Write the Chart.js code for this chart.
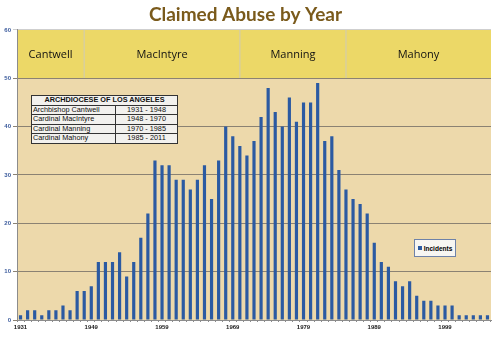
<!DOCTYPE html>
<html>
<head>
<meta charset="utf-8">
<script src="https://cdn.jsdelivr.net/npm/chart.js@4"></script>
<style>
    body { margin: 0; background: #fff; }
    #wrap { position: relative; width: 495px; height: 341px; }
    #abuse-chart { display: block; }
    #term-table {
        position: absolute; left: 31px; top: 95px; width: 147px;
        border-collapse: collapse; background: #f2f1ee; color: #111;
        font-family: "Liberation Sans", Arial, sans-serif; font-size: 7.3px; line-height: 8.5px;
        border: 1.2px solid #333;
    }
    #term-table th { font-weight: bold; text-align: center; border-bottom: 1px solid #333; padding: 0; height: 8.5px; }
    #term-table td { border-top: 1px solid #333; padding: 0 1px; height: 8.5px; }
    #term-table td.years { text-align: center; border-left: 1px solid #333; width: 59px; }
    #legend-box {
        position: absolute; left: 414px; top: 239px; width: 42px; height: 18px;
        border: 1px solid #6e82a8; background: #f7f6f2;
        font-family: "Liberation Sans", Arial, sans-serif; font-size: 6.5px; font-weight: bold;
        display: flex; align-items: center; justify-content: center; box-sizing: border-box;
    }
    #legend-box span.swatch { width: 4px; height: 4px; background: #2b5aa2; margin-right: 2px; }
</style>
</head>
<body>
<div id="wrap">
    <canvas id="abuse-chart" width="495" height="341"></canvas>
    <table id="term-table"></table>
    <div id="legend-box"></div>
</div>
<script>
// reporting years (only years with claims before 1949)
const years = [
    '1931', '1933', '1935', '1937', '1939', '1941', '1943', '1945', '1947', '1948',
    '1949', '1950', '1951', '1952', '1953', '1954', '1955', '1956', '1957', '1958',
    '1959', '1960', '1961', '1962', '1963', '1964', '1965', '1966', '1967', '1968',
    '1969', '1970', '1971', '1972', '1973', '1974', '1975', '1976', '1977', '1978',
    '1979', '1980', '1981', '1982', '1983', '1984', '1985', '1986', '1987', '1988',
    '1989', '1990', '1991', '1992', '1993', '1994', '1995', '1996', '1997', '1998',
    '1999', '2000', '2001', '2002', '2003', '2004', '2005',
];
const incidents = [
    1, 2, 2, 1, 2, 2, 3, 2, 6, 6,
    7, 12, 12, 12, 14, 9, 12, 17, 22, 33,
    32, 32, 29, 29, 27, 29, 32, 25, 33, 40,
    38, 36, 34, 37, 42, 48, 43, 40, 46, 41,
    45, 45, 49, 37, 38, 31, 27, 25, 24, 22,
    16, 12, 11, 8, 7, 8, 5, 4, 4, 3,
    3, 3, 1, 1, 1, 1, 1,
];
const leaders = ['Cantwell', 'MacIntyre', 'Manning', 'Mahony'];
const titles = ['Archbishop Cantwell', 'Cardinal MacIntyre', 'Cardinal Manning', 'Cardinal Mahony'];
const termStart = ['1931', '1948', '1970', '1985'];
const termEnd = ['1948', '1970', '1985', '2011'];

const BAR_BLUE = '#2b5aa2';

// term table
const table = document.getElementById('term-table');
table.innerHTML = '<tr><th colspan="2">ARCHDIOCESE OF LOS ANGELES</th></tr>' +
    titles.map((t, i) => `<tr><td>${t}</td><td class="years">${termStart[i]} - ${termEnd[i]}</td></tr>`).join('');

document.getElementById('legend-box').innerHTML = '<span class="swatch"></span>Incidents';

// parchment background with a yellow band of leader names on top
// (beforeDraw so the grid lines land on top of it)
const bandPlugin = {
    id: 'leaderBands',
    beforeDraw(chart) {
        const { ctx, chartArea: a, scales: { x, y } } = chart;
        const bandTop = y.getPixelForValue(60);
        const bandBottom = y.getPixelForValue(50);
        ctx.save();
        ctx.fillStyle = '#edd9ab';
        ctx.fillRect(a.left, bandBottom, a.right - a.left, a.bottom - bandBottom);
        ctx.fillStyle = '#ecd867';
        ctx.fillRect(a.left, bandTop, a.right - a.left, bandBottom - bandTop);

        const edges = [a.left];
        for (let i = 1; i < termStart.length; i++) {
            edges.push(x.getPixelForValue(years.indexOf(termStart[i])));
        }
        edges.push(a.right);

        ctx.strokeStyle = '#d9cf9c';
        ctx.lineWidth = 1.5;
        for (let i = 1; i < edges.length - 1; i++) {
            ctx.beginPath();
            ctx.moveTo(edges[i], bandTop);
            ctx.lineTo(edges[i], bandBottom);
            ctx.stroke();
        }

        ctx.fillStyle = '#111';
        ctx.font = '11px "Open Sans", sans-serif';
        ctx.textAlign = 'center';
        ctx.textBaseline = 'middle';
        leaders.forEach((name, i) => {
            ctx.fillText(name, (edges[i] + edges[i + 1]) / 2, (bandTop + bandBottom) / 2 + 1);
        });
        ctx.restore();
    }
};

new Chart(document.getElementById('abuse-chart'), {
    type: 'bar',
    data: {
        labels: years,
        datasets: [{
            label: 'Incidents',
            data: incidents,
            backgroundColor: BAR_BLUE,
            barPercentage: 0.45,
            categoryPercentage: 1,
        }]
    },
    options: {
        responsive: false,
        animation: false,
        layout: { padding: { left: 0, right: 4, top: 0, bottom: 0 } },
        plugins: {
            legend: { display: false },
            tooltip: { enabled: false },
            title: {
                display: true,
                text: 'Claimed Abuse by Year',
                color: '#7a5a1b',
                font: { family: 'Lato', size: 19, weight: 'bold', lineHeight: 1.15 },
                padding: { top: 4, bottom: 4 },
            },
        },
        scales: {
            x: {
                grid: { drawOnChartArea: false, tickLength: 2, color: '#8c8c8c', offset: true },
                border: { color: '#8c8c8c' },
                ticks: {
                    autoSkip: false,
                    maxRotation: 0,
                    padding: 2,
                    color: '#222',
                    font: { family: '"Liberation Sans"', size: 6, weight: 'bold' },
                    callback: (v, i) => (i % 10 === 0 ? years[i] : ''),
                },
                afterFit: (s) => { s.height = 21; },
            },
            y: {
                min: 0,
                max: 60,
                ticks: {
                    stepSize: 10,
                    padding: 2,
                    color: '#3a5a9c',
                    font: { family: '"Liberation Sans"', size: 6, weight: 'bold' },
                },
                grid: {
                    tickLength: 4,
                    color: (c) => (c.tick.value === 60 ? '#cfcfcf' : '#8b8273'),
                    lineWidth: 1,
                },
                border: { color: '#8c8c8c' },
                afterFit: (s) => { s.width = 17; },
            },
        },
    },
    plugins: [bandPlugin],
});
</script>
</body>
</html>
